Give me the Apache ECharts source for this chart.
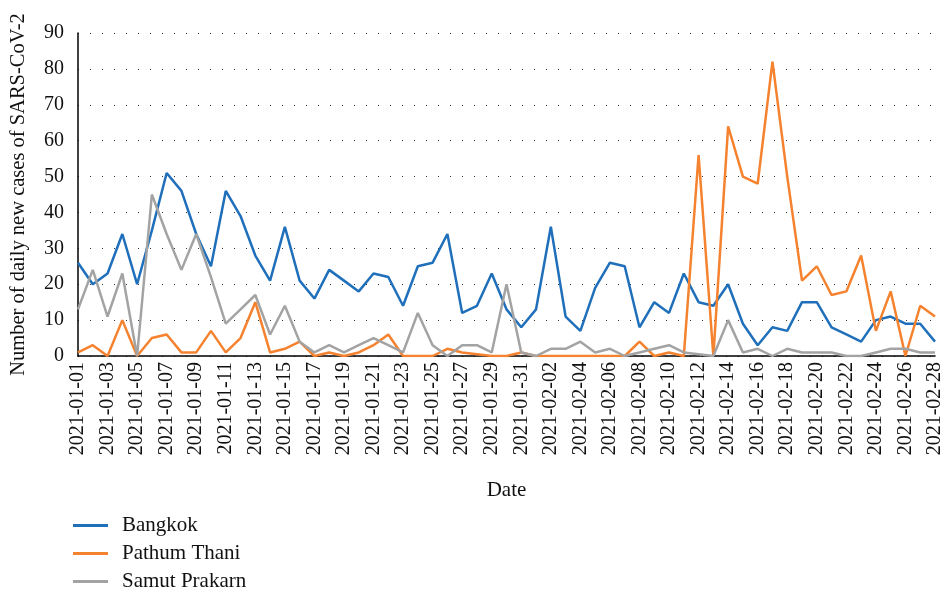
<!DOCTYPE html>
<html>
<head>
<meta charset="utf-8">
<script src="https://cdn.jsdelivr.net/npm/echarts@6/dist/echarts.min.js"></script>
<style>
html,body{margin:0;padding:0;background:#fff;}
#chart_panel{width:942px;height:592px;}
</style>
</head>
<body>
<div id="chart_panel"></div>
<script>
// dates 2021-01-01 .. 2021-02-28
var dates = [
	'2021-01-01','2021-01-02','2021-01-03','2021-01-04','2021-01-05','2021-01-06','2021-01-07','2021-01-08','2021-01-09','2021-01-10',
	'2021-01-11','2021-01-12','2021-01-13','2021-01-14','2021-01-15','2021-01-16','2021-01-17','2021-01-18','2021-01-19','2021-01-20',
	'2021-01-21','2021-01-22','2021-01-23','2021-01-24','2021-01-25','2021-01-26','2021-01-27','2021-01-28','2021-01-29','2021-01-30',
	'2021-01-31','2021-02-01','2021-02-02','2021-02-03','2021-02-04','2021-02-05','2021-02-06','2021-02-07','2021-02-08','2021-02-09',
	'2021-02-10','2021-02-11','2021-02-12','2021-02-13','2021-02-14','2021-02-15','2021-02-16','2021-02-17','2021-02-18','2021-02-19',
	'2021-02-20','2021-02-21','2021-02-22','2021-02-23','2021-02-24','2021-02-25','2021-02-26','2021-02-27','2021-02-28'
];

var bangkok = [
	26, 20, 23, 34, 20, 35, 51, 46, 34, 25,
	46, 39, 28, 21, 36, 21, 16, 24, 21, 18,
	23, 22, 14, 25, 26, 34, 12, 14, 23, 13,
	8, 13, 36, 11, 7, 19, 26, 25, 8, 15,
	12, 23, 15, 14, 20, 9, 3, 8, 7, 15,
	15, 8, 6, 4, 10, 11, 9, 9, 4
];

var pathumThani = [
	1, 3, 0, 10, 0, 5, 6, 1, 1, 7,
	1, 5, 15, 1, 2, 4, 0, 1, 0, 1,
	3, 6, 0, 0, 0, 2, 1, 0.5, 0, 0,
	1, 0, 0, 0, 0, 0, 0, 0, 4, 0,
	1, 0, 56, 0, 64, 50, 48, 82, 50, 21,
	25, 17, 18, 28, 7, 18, 0, 14, 11
];

var samutPrakarn = [
	13, 24, 11, 23, 0, 45, 34, 24, 34, 22,
	9, 13, 17, 6, 14, 4, 1, 3, 1, 3,
	5, 3, 1, 12, 3, 0, 3, 3, 1, 20,
	1, 0, 2, 2, 4, 1, 2, 0, 1, 2,
	3, 1, 0.5, 0, 10, 1, 2, 0, 2, 1,
	1, 1, 0, 0, 1, 2, 2, 1, 1
];

var seriesNames = ['Bangkok', 'Pathum Thani', 'Samut Prakarn'];
var seriesColors = ['#1f6fba', '#f5822f', '#a3a3a3'];
var seriesData = [bangkok, pathumThani, samutPrakarn];

var fontName = 'Liberation Serif';

var myChart = echarts.init(document.getElementById('chart_panel'));

function getLineSeries(){
	var series = [];
	for(var i=0; i<seriesData.length; i++){
		series.push({
			name: seriesNames[i],
			type: 'line',
			data: seriesData[i],
			showSymbol: false,
			symbol: 'none',
			lineStyle: {width: 2.5, color: seriesColors[i]},
			itemStyle: {color: seriesColors[i]},
			animation: false
		});
	}
	return series;
}

var lineChart = {
	backgroundColor: '#fff',
	animation: false,
	textStyle: {fontFamily: fontName},
	grid: {left: 78, right: 7, top: 33, bottom: 236, containLabel: false, outerBoundsMode: 'none'},
	legend: {
		orient: 'vertical',
		left: 73,
		top: 515,
		padding: 0,
		icon: 'rect',
		itemWidth: 35,
		itemHeight: 3,
		itemGap: 7,
		data: seriesNames,
		textStyle: {fontFamily: fontName, fontSize: 21, color: '#111', padding: [0, 0, 0, 9]}
	},
	xAxis: {
		type: 'category',
		boundaryGap: false,
		data: dates,
		name: 'Date',
		nameLocation: 'middle',
		nameGap: 124,
		nameTextStyle: {fontFamily: fontName, fontSize: 21, color: '#111'},
		axisLine: {lineStyle: {color: '#000', width: 1.5}},
		axisTick: {show: false},
		axisLabel: {
			interval: 1,
			rotate: 90,
			fontFamily: fontName,
			fontSize: 20,
			color: '#111',
			margin: 6
		},
		splitLine: {show: false}
	},
	yAxis: {
		type: 'value',
		min: 0,
		max: 90,
		interval: 10,
		name: 'Number of daily new cases of SARS-CoV-2',
		nameLocation: 'middle',
		nameGap: 49,
		nameTextStyle: {fontFamily: fontName, fontSize: 20.5, color: '#111'},
		axisLine: {show: true, lineStyle: {color: '#000', width: 1.5}},
		axisTick: {show: false},
		axisLabel: {fontFamily: fontName, fontSize: 20, color: '#111', margin: 14},
		splitLine: {show: true, lineStyle: {color: '#333', type: [1, 11], width: 1}}
	},
	series: getLineSeries()
};

myChart.setOption(lineChart, true);
window.onresize = myChart.resize;
</script>
</body>
</html>
